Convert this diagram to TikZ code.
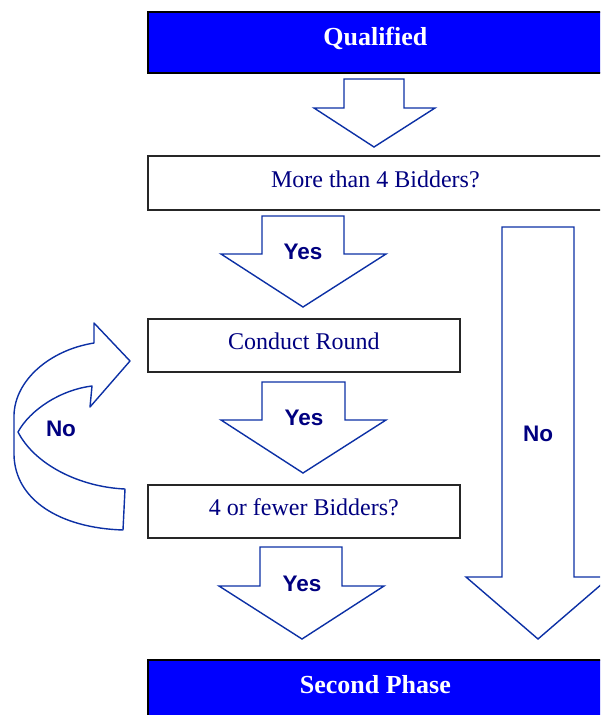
\documentclass[tikz,border=0pt]{standalone}
\usepackage{fontspec}
\setmainfont{Liberation Serif}
\newfontfamily\labelfont{Liberation Sans}
\definecolor{boxblue}{RGB}{0,0,255}
\definecolor{navytext}{RGB}{0,0,128}
\definecolor{arrowline}{RGB}{12,48,165}
\tikzset{
  bluebox/.style={draw=black, line width=1.7pt, fill=boxblue, text=white,
    font=\fontsize{26}{30}\selectfont\bfseries, inner sep=0pt,
    text height=13pt, text depth=5.8pt},
  whitebox/.style={draw=black!85, line width=1.7pt, fill=white, text=navytext,
    font=\fontsize{24}{28}\selectfont, inner sep=0pt,
    text height=14pt, text depth=5pt},
  blockarrow/.style={draw=arrowline, line width=1.4pt, fill=white, line join=miter},
  arrowlabel/.style={text=navytext, font=\labelfont\fontsize{22.5}{26}\selectfont\bfseries, inner sep=0pt}
}
\begin{document}
\begin{tikzpicture}[x=1pt, y=-1pt]
\useasboundingbox (0,0) rectangle (600,715);
\clip (0,0) rectangle (600,715);

% boxes (the wide ones run past the right edge; text kept centred on x = 373.5)
\node[bluebox, minimum width=480, minimum height=61, anchor=north west] (qual) at (147,11) {\hspace*{-25pt}Qualified};
\node[whitebox, minimum width=480, minimum height=54, anchor=north west] (more) at (147,155) {\hspace*{-25pt}More than 4 Bidders?};
\node[whitebox, minimum width=312, minimum height=53, anchor=north west] (round) at (147,318) {Conduct Round};
\node[whitebox, minimum width=312, minimum height=53, anchor=north west] (fewer) at (147,484) {4 or fewer Bidders?};
\node[bluebox, minimum width=480, minimum height=60, anchor=north west] (second) at (147,659) {\hspace*{-25pt}Second Phase};

% block arrow: Qualified -> More than 4 Bidders?
\draw[blockarrow] (344,79) -- (404,79) -- (404,108) -- (435,108) -- (374,147) -- (314,108) -- (344,108) -- cycle;

% block arrow: Yes -> Conduct Round
\draw[blockarrow] (262,216) -- (344,216) -- (344,254) -- (386,254) -- (303,307) -- (221,254) -- (262,254) -- cycle;
\node[arrowlabel] (yes1) at (303,252) {Yes};

% block arrow: Yes -> 4 or fewer Bidders?
\draw[blockarrow] (262,382) -- (345,382) -- (345,420) -- (386,420) -- (303,473) -- (221,420) -- (262,420) -- cycle;
\node[arrowlabel] (yes2) at (304,418) {Yes};

% block arrow: Yes -> Second Phase
\draw[blockarrow] (260,547) -- (342,547) -- (342,586) -- (384,586) -- (302,639) -- (219,586) -- (260,586) -- cycle;
\node[arrowlabel] (yes3) at (302,584) {Yes};

% long block arrow: No -> Second Phase
\draw[blockarrow] (502,227) -- (574,227) -- (574,577) -- (610,577) -- (538,639) -- (466,577) -- (502,577) -- cycle;
\node[arrowlabel] (no2) at (538,434) {No};

% curved return arrow: No -> Conduct Round
\draw[blockarrow, line join=round]
  (94,343) .. controls (50,350) and (15,380) .. (14,415)
  -- (14,455) .. controls (15,500) and (60,528) .. (123,530)
  -- (125,489) .. controls (80,487) and (35,465) .. (18,432)
  .. controls (30,410) and (60,390) .. (92,386)
  -- (90,407) -- (130,361) -- (94,323) -- cycle;
\node[arrowlabel] (no1) at (61,429) {No};
\end{tikzpicture}
\end{document}
